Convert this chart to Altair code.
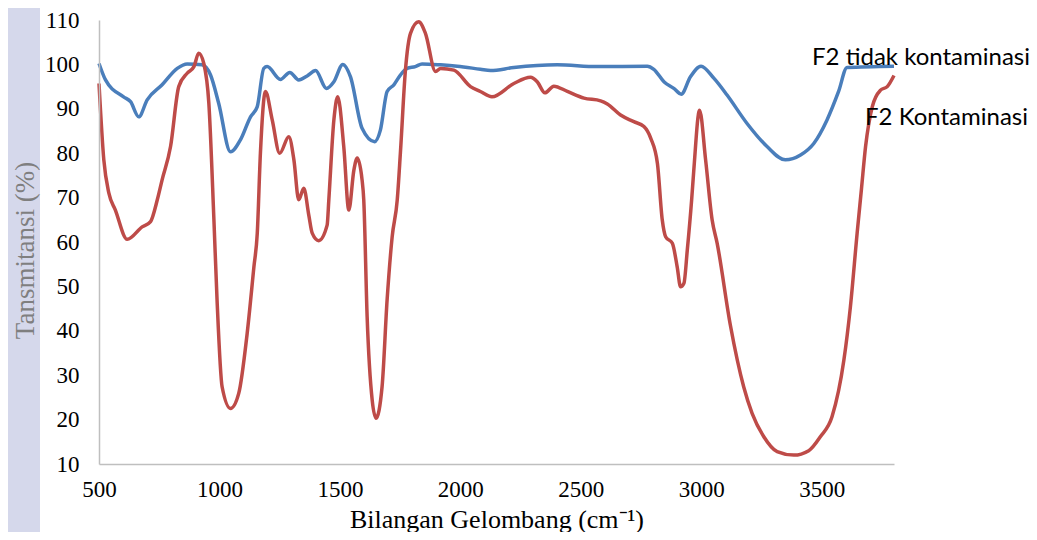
import altair as alt
import pandas as pd

blue_x = [500, 527, 602, 631, 665, 700, 762, 825, 866, 928, 963, 997, 1046, 1087, 1129, 1157,
          1184, 1198, 1253, 1292, 1329, 1364, 1399, 1444, 1475, 1512, 1544, 1592, 1644, 1668,
          1696, 1724, 1751, 1779, 1813, 1841, 1918, 1987, 2083, 2125, 2222, 2402, 2568, 2776,
          2803, 2845, 2886, 2917, 2955, 2999, 3052, 3107, 3190, 3273, 3349, 3412, 3467, 3522,
          3570, 3605, 3800]
blue_y = [100.2, 96.5, 92.7, 91.6, 88.2, 92.0, 95.4, 99.1, 100.1, 99.9, 97.6, 91.2, 80.3, 83.0,
          88.2, 90.5, 99.1, 99.5, 96.6, 98.2, 96.5, 97.4, 98.6, 94.6, 96.1, 100.0, 97.2, 85.6,
          82.6, 85.2, 93.9, 95.4, 97.6, 99.1, 99.5, 100.1, 99.9, 99.6, 98.9, 98.6, 99.3, 99.9,
          99.5, 99.6, 98.9, 96.1, 94.6, 93.3, 97.2, 99.6, 96.9, 93.1, 86.7, 81.5, 78.5, 79.6,
          82.2, 87.5, 93.9, 99.3, 99.6]

red_x = [500, 520, 541, 568, 617, 679, 714, 742, 762, 797, 831, 866, 894, 914, 935, 956, 977,
         990, 1011, 1046, 1080, 1115, 1143, 1157, 1170, 1191, 1219, 1250, 1288, 1309, 1329, 1350,
         1371, 1385, 1412, 1447, 1454, 1475, 1491, 1516, 1537, 1558, 1572, 1592, 1599, 1613,
         1634, 1650, 1675, 1696, 1717, 1738, 1751, 1772, 1793, 1827, 1855, 1897, 1918, 1973,
         2042, 2083, 2131, 2222, 2291, 2319, 2351, 2388, 2444, 2513, 2582, 2610, 2665, 2720,
         2762, 2790, 2818, 2838, 2852, 2880, 2900, 2914, 2928, 2942, 2960, 2969, 2993, 3018,
         3045, 3066, 3121, 3176, 3211, 3259, 3315, 3384, 3446, 3495, 3543, 3592, 3619, 3647,
         3665, 3682, 3710, 3744, 3772, 3800]
red_y = [95.7, 78.5, 71.0, 67.2, 60.6, 63.4, 64.6, 69.5, 74.0, 81.5, 95.0, 98.0, 99.5, 102.5,
         100.2, 91.2, 65.0, 47.0, 27.4, 22.5, 25.9, 39.4, 54.4, 62.0, 80.0, 93.9, 87.5, 80.0,
         83.7, 78.5, 69.5, 72.1, 66.0, 62.0, 60.3, 63.8, 69.5, 87.5, 92.7, 81.5, 67.2, 76.2,
         78.9, 74.0, 69.5, 43.2, 24.4, 20.3, 27.4, 47.0, 61.2, 69.5, 80.0, 98.7, 107.0, 109.6,
         107.0, 98.4, 99.1, 98.7, 95.0, 93.9, 92.7, 95.7, 97.1, 96.1, 93.6, 95.1, 93.9, 92.4,
         91.8, 91.1, 88.6, 87.1, 86.0, 83.4, 77.7, 65.0, 61.2, 59.7, 54.4, 49.9, 50.7, 58.2,
         69.5, 76.2, 89.7, 78.5, 65.0, 59.7, 41.2, 27.4, 21.4, 16.2, 12.8, 12.0, 13.0, 16.2,
         20.7, 33.4, 45.4, 62.0, 72.0, 81.5, 90.5, 94.2, 95.0, 97.5]

series_names = ["F2 tidak kontaminasi", "F2 Kontaminasi"]
series_colors = ["#4A7EBB", "#BE4B48"]
x_ticks = [500, 1000, 1500, 2000, 2500, 3000, 3500]
y_ticks = [10, 20, 30, 40, 50, 60, 70, 80, 90, 100, 110]

df = pd.concat([
    pd.DataFrame({"x": blue_x, "y": blue_y, "s": series_names[0]}),
    pd.DataFrame({"x": red_x, "y": red_y, "s": series_names[1]}),
])

W, H = 795, 444

xs = alt.Scale(domain=[500, 3800], nice=False, zero=False)
ys = alt.Scale(domain=[10, 110], nice=False, zero=False)
cs = alt.Scale(domain=series_names, range=series_colors)

band = alt.Chart(pd.DataFrame({"a": [0]})).mark_rect(color="#D5D8EB", clip=False).encode(
    x=alt.value(-91), x2=alt.value(-59), y=alt.value(-12), y2=alt.value(H + 68)
)

lines = alt.Chart(df).mark_line(strokeWidth=3.5, interpolate="monotone").encode(
    x=alt.X("x:Q", scale=xs, axis=alt.Axis(
        values=x_ticks, format="d", labelFlush=False, title="Bilangan Gelombang (cm\u207b\u00b9)",
        grid=False, ticks=False, zindex=1,
        domainColor="#BFBFBF", domainWidth=1.5, labelFont="Liberation Serif", labelFontSize=23,
        labelColor="#000000", labelPadding=14, titleFont="Liberation Serif", titleFontSize=26,
        titleFontWeight="normal", titleColor="#000000", titleBaseline="alphabetic", titleY=63)),
    y=alt.Y("y:Q", scale=ys, axis=alt.Axis(
        values=y_ticks, format="d", labelFlush=False, title="Tansmitansi (%)", grid=False,
        ticks=False, zindex=1,
        domainColor="#BFBFBF", domainWidth=1.5, labelFont="Liberation Serif", labelFontSize=23,
        labelColor="#000000", labelPadding=20, titleFont="Liberation Serif", titleFontSize=27,
        titleFontWeight="normal", titleColor="#7F7F7F", titleX=-74, titleY=230,
        titleAngle=270, titleAlign="center", titleBaseline="middle")),
    color=alt.Color("s:N", scale=cs, legend=None),
    detail="s:N",
)

lab_df = pd.DataFrame({
    "x": [blue_x[-1], red_x[-1]],
    "y": [blue_y[-1], red_y[-1]],
    "s": series_names,
})

lab_blue = alt.Chart(lab_df[lab_df.s == series_names[0]]).mark_text(
    align="right", baseline="middle", dx=136, dy=-8, font="Lato", fontSize=24, color="#000000"
).encode(x=alt.X("x:Q", scale=xs), y=alt.Y("y:Q", scale=ys), text="s:N")

lab_red = alt.Chart(lab_df[lab_df.s == series_names[1]]).mark_text(
    align="right", baseline="middle", dx=134, dy=42, font="Lato", fontSize=24, color="#000000"
).encode(x=alt.X("x:Q", scale=xs), y=alt.Y("y:Q", scale=ys), text="s:N")

chart = alt.layer(band, lines, lab_blue, lab_red).properties(
    width=W, height=H,
    autosize=alt.AutoSizeParams(type="none"),
    padding={"left": 91, "top": 12, "right": 135, "bottom": 68},
).configure_view(stroke=None)

chart.save("out.html", embed_options={"renderer": "svg", "actions": False})
